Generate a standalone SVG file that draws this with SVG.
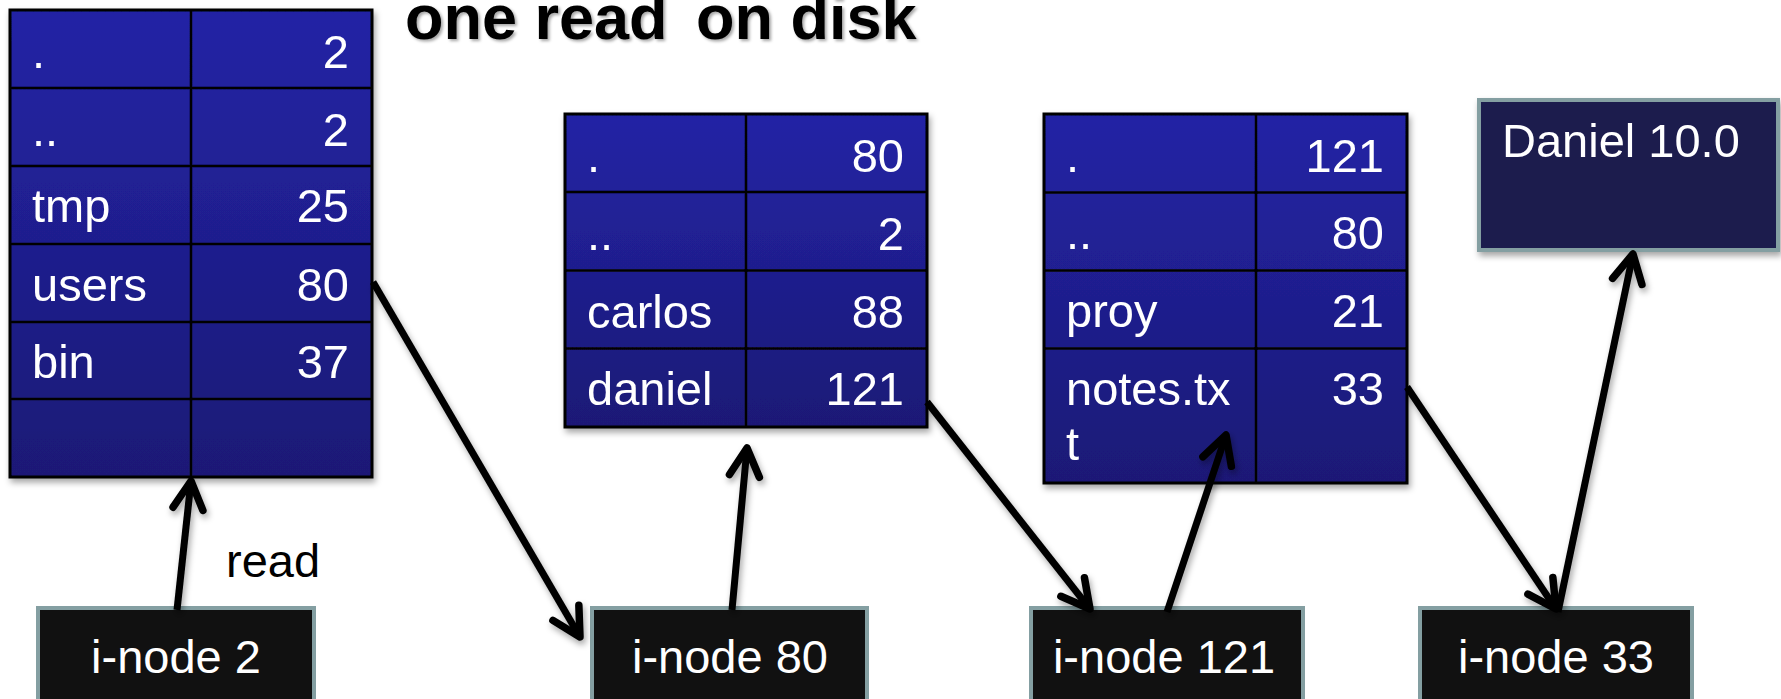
<svg xmlns="http://www.w3.org/2000/svg" width="1781" height="699" viewBox="0 0 1781 699">
  <style>
    text { font-family: "Liberation Sans", Arial, Helvetica, sans-serif; font-size: 47px; fill: #ffffff; }
    .title { font-size: 63px; font-weight: bold; fill: #000000; }
    .dark { fill: #000000; }
    .num { text-anchor: end; }
    .mid { text-anchor: middle; }
    .table { fill: url(#tableFill); stroke: #000000; stroke-width: 3; }
    .grid { stroke: #000000; stroke-width: 2.5; fill: none; }
    .inode { fill: #111111; stroke: #849fa2; stroke-width: 4; }
    .file { fill: #1c1a4e; stroke: #849fa2; stroke-width: 4; }
    .link { stroke: #000000; stroke-width: 7; fill: none; marker-end: url(#chevron); }
  </style>
  <defs>
    <linearGradient id="tableFill" x1="0" y1="0" x2="0" y2="1">
      <stop offset="0" stop-color="#2324a5"/>
      <stop offset="1" stop-color="#1b1976"/>
    </linearGradient>
    <filter id="shadow" x="-10%" y="-10%" width="130%" height="130%">
      <feDropShadow dx="2" dy="4" stdDeviation="3" flood-color="#000000" flood-opacity="0.35"/>
    </filter>
    <filter id="textShadow" x="-5%" y="-20%" width="110%" height="150%">
      <feDropShadow dx="2" dy="2" stdDeviation="1.5" flood-color="#000000" flood-opacity="0.35"/>
    </filter>
    <marker id="chevron" markerUnits="userSpaceOnUse" viewBox="-40 -25 50 50" refX="0" refY="0" markerWidth="50" markerHeight="50" orient="auto">
      <path d="M-28,-15 L0,0 L-28,15" fill="none" stroke="#000000" stroke-width="7.5" stroke-linecap="round" stroke-linejoin="round"/>
    </marker>
  </defs>

  <rect x="0" y="0" width="1781" height="699" fill="#ffffff"/>

  <text class="title" x="405" y="39" filter="url(#textShadow)">one read<tspan dx="11"> on disk</tspan></text>

  <!-- directory block of i-node 2 -->
  <g id="dir-root" filter="url(#shadow)">
    <rect class="table" x="10" y="10" width="362" height="467"/>
    <path class="grid" d="M191,10 V477 M10,88 H372 M10,166 H372 M10,244 H372 M10,322 H372 M10,399 H372"/>
    <text x="32" y="68">.</text><text class="num" x="349" y="68">2</text>
    <text x="32" y="146">..</text><text class="num" x="349" y="146">2</text>
    <text x="32" y="222">tmp</text><text class="num" x="349" y="222">25</text>
    <text x="32" y="301">users</text><text class="num" x="349" y="301">80</text>
    <text x="32" y="378">bin</text><text class="num" x="349" y="378">37</text>
  </g>

  <!-- directory block of i-node 80 -->
  <g id="dir-users" filter="url(#shadow)">
    <rect class="table" x="565" y="114" width="362" height="313"/>
    <path class="grid" d="M746,114 V427 M565,192 H927 M565,270.5 H927 M565,348.5 H927"/>
    <text x="587" y="172">.</text><text class="num" x="904" y="172">80</text>
    <text x="587" y="250">..</text><text class="num" x="904" y="250">2</text>
    <text x="587" y="328">carlos</text><text class="num" x="904" y="328">88</text>
    <text x="587" y="405">daniel</text><text class="num" x="904" y="405">121</text>
  </g>

  <!-- directory block of i-node 121 -->
  <g id="dir-daniel" filter="url(#shadow)">
    <rect class="table" x="1044" y="114" width="363" height="369"/>
    <path class="grid" d="M1256,114 V483 M1044,192.5 H1407 M1044,270.5 H1407 M1044,348.5 H1407"/>
    <text x="1066" y="172">.</text><text class="num" x="1384" y="172">121</text>
    <text x="1066" y="249">..</text><text class="num" x="1384" y="249">80</text>
    <text x="1066" y="327">proy</text><text class="num" x="1384" y="327">21</text>
    <text x="1066" y="405">notes.tx</text><text class="num" x="1384" y="405">33</text>
    <text x="1066" y="460">t</text>
  </g>

  <!-- data block of i-node 33 -->
  <g id="file-notes" filter="url(#shadow)">
    <rect class="file" x="1479" y="100" width="299" height="150"/>
    <text x="1502" y="157">Daniel 10.0</text>
  </g>

  <!-- i-nodes -->
  <g id="inode-2">
    <rect class="inode" x="38" y="608" width="276" height="120"/>
    <text class="mid" x="176" y="673">i-node 2</text>
  </g>
  <g id="inode-80">
    <rect class="inode" x="592" y="608" width="275" height="120"/>
    <text class="mid" x="730" y="673">i-node 80</text>
  </g>
  <g id="inode-121">
    <rect class="inode" x="1031" y="608" width="272" height="120"/>
    <text class="mid" x="1164" y="673">i-node 121</text>
  </g>
  <g id="inode-33">
    <rect class="inode" x="1420" y="608" width="272" height="120"/>
    <text class="mid" x="1556" y="673">i-node 33</text>
  </g>

  <!-- connectors -->
  <g id="connectors" filter="url(#shadow)">
    <path class="link" d="M177,610 L191,481"/>
    <path class="link" d="M373,282 L580,637"/>
    <path class="link" d="M732,610 L747,448"/>
    <path class="link" d="M927,402 L1090,609"/>
    <path class="link" d="M1167,612 L1226,435"/>
    <path class="link" d="M1407,387 L1556,609"/>
    <path class="link" d="M1558,612 L1633,254"/>
  </g>
  <text class="dark" x="226" y="577">read</text>
</svg>
